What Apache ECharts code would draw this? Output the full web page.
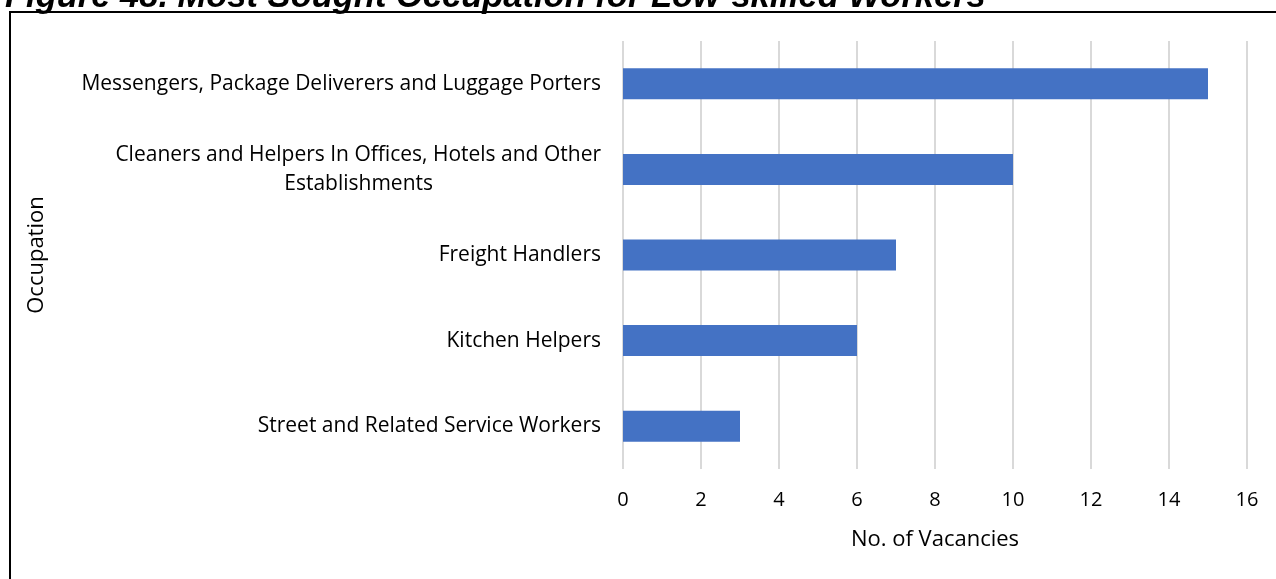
<!DOCTYPE html>
<html>
<head>
<meta charset="utf-8">
<title>Most Sought Occupation for Low-skilled Workers</title>
<script src="https://cdn.jsdelivr.net/npm/echarts@6/dist/echarts.min.js"></script>
<style>
  html, body { margin: 0; padding: 0; background: #fff; }
  #chart { width: 1276px; height: 579px; }
</style>
</head>
<body>
<div id="chart"></div>
<script>
// data
var occupations = [
  'Messengers, Package Deliverers and Luggage Porters',
  'Cleaners and Helpers In Offices, Hotels and Other\nEstablishments',
  'Freight Handlers',
  'Kitchen Helpers',
  'Street and Related Service Workers'
];
var vacancies = [15, 10, 7, 6, 3];
var titleText = 'Figure 48. Most Sought Occupation for Low-skilled Workers';

var labelFont = '"Open Sans", sans-serif';
var labelSize = 21;

// measure text so the wrapped second line sits centred under the first
var ctx = document.createElement('canvas').getContext('2d');
ctx.font = labelSize + 'px "Open Sans"';
function textW(s) { return ctx.measureText(s).width; }

var wrapped = occupations[1].split('\n');
var padR = Math.round((textW(wrapped[0]) - textW(wrapped[1])) / 2);

var chart = echarts.init(document.getElementById('chart'));
chart.setOption({
  animation: false,
  title: {
    text: titleText,
    left: 0,
    top: -25,
    textStyle: {
      fontFamily: '"Liberation Sans", Arial, sans-serif',
      fontSize: 34.5,
      fontWeight: 'bold',
      fontStyle: 'italic',
      color: '#000'
    }
  },
  graphic: [{
    type: 'rect',
    shape: { x: 10, y: 12, width: 1300, height: 600 },
    style: { fill: 'none', stroke: '#000', lineWidth: 2 },
    silent: true
  }],
  grid: { left: 623, right: 29, top: 41, bottom: 110 },
  xAxis: {
    type: 'value',
    min: 0,
    max: 16,
    interval: 2,
    name: 'No. of Vacancies',
    nameLocation: 'middle',
    nameGap: 60,
    nameTextStyle: { fontFamily: labelFont, fontSize: 22, color: '#000' },
    axisLine: { show: false },
    axisTick: { show: false },
    axisLabel: { fontFamily: labelFont, fontSize: 20, color: '#000', margin: 21 },
    splitLine: { lineStyle: { color: '#d9d9d9', width: 2 } }
  },
  yAxis: {
    type: 'category',
    inverse: true,
    data: occupations,
    name: 'Occupation',
    nameLocation: 'middle',
    nameGap: 575,
    nameRotate: 90,
    nameTextStyle: { fontFamily: labelFont, fontSize: 22, color: '#000' },
    axisLine: { show: false },
    axisTick: { show: false },
    axisLabel: {
      fontFamily: labelFont,
      fontSize: labelSize,
      color: '#000',
      margin: 22,
      lineHeight: 29,
      formatter: function (v) {
        var parts = v.split('\n');
        if (parts.length > 1) {
          return parts[0] + '\n{b|' + parts[1] + '}{p|}';
        }
        return v;
      },
      rich: {
        b: { fontFamily: labelFont, fontSize: labelSize, color: '#000', lineHeight: 29 },
        p: { width: padR }
      }
    }
  },
  series: [{
    type: 'bar',
    data: vacancies,
    barWidth: 31,
    itemStyle: { color: '#4472c4' }
  }]
});
</script>
</body>
</html>
